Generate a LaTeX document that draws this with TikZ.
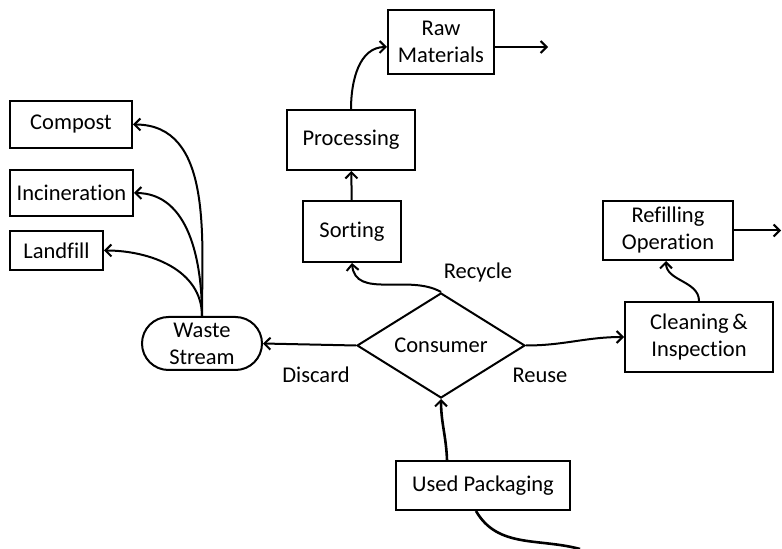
\documentclass[tikz,border=0pt]{standalone}
\usepackage{fontspec}
\setmainfont{Carlito}[Ligatures=NoCommon]
\usetikzlibrary{shapes.geometric,shapes.misc,arrows.meta}
\begin{document}
\begin{tikzpicture}[x=1pt,y=1pt,
  font=\fontsize{22.5}{27}\selectfont,
  box/.style={draw, line width=2pt, inner sep=0pt, align=center},
  flow/.style={line width=2pt, -{Straight Barb[length=6pt,width=12pt,line width=2pt]}}]
  \useasboundingbox (0,0) rectangle (782,549);

  % Recycle branch
  \node[box, minimum width=106pt, minimum height=64pt] (rawmat) at (441,507) {Raw\\Materials};
  \node[box, minimum width=128pt, minimum height=60pt] (proc) at (351,409) {Processing};
  \node[box, minimum width=98pt, minimum height=61pt] (sort) at (352,317.5) {Sorting};

  % Reuse branch
  \node[box, minimum width=130pt, minimum height=59pt] (refill) at (668,318.5) {Refilling\\Operation};
  \node[box, minimum width=148pt, minimum height=70pt] (clean) at (699,212) {Cleaning\,\&\\Inspection};

  % Discard branch
  \node[box, minimum width=122pt, minimum height=47pt] (compost) at (71,424.5) {Compost};
  \node[box, minimum width=123pt, minimum height=46pt] (incin) at (71.5,356) {Incineration};
  \node[box, minimum width=93pt, minimum height=39pt] (landfill) at (56.5,298.5) {Landfill};
  \node[box, rounded rectangle, minimum width=120pt, minimum height=53pt] (waste) at (202,205.5) {Waste\\Stream};

  % Decision and input
  \node[box, diamond, aspect=1.6, minimum width=168pt, minimum height=105pt] (consumer) at (441,203.5) {Consumer};
  \node[box, minimum width=174pt, minimum height=49pt] (used) at (483,63.5) {Used Packaging};

  % Labels
  \node (recycle) at (478,276) {Recycle};
  \node (discard) at (316,174) {Discard};
  \node (reuse) at (540,174) {Reuse};

  % Free ends
  \coordinate (rawout) at (548,502);
  \coordinate (refillout) at (781,318.5);
  \coordinate (usedin) at (580,0);

  % Connectors
  \draw[flow] (consumer.north) to[out=150, in=-85] (sort.south);
  \draw[flow] (sort) -- (proc);
  \draw[flow] (proc.north) to[out=90, in=180] ([yshift=-5pt]rawmat.west);
  \draw[flow] ([yshift=-5pt]rawmat.east) -- (rawout);
  \draw[flow] (consumer.west) -- (waste.east);
  \foreach \dest in {compost, incin, landfill}
    \draw[flow] (waste.north) to[out=90, in=0] (\dest.east);
  \draw[flow] (consumer.east) to[out=0, in=180] (clean.west);
  \draw[flow] (clean.north) to[out=90, in=-90] ([xshift=-2pt]refill.south);
  \draw[flow] (refill.east) -- (refillout);
  \draw[flow, line width=2.6pt] ([xshift=-36pt]used.north) to[out=92, in=-90] (consumer.south);
  \draw[line width=2.6pt] (usedin) to[out=165, in=-60] ([xshift=-7pt]used.south);
\end{tikzpicture}
\end{document}
